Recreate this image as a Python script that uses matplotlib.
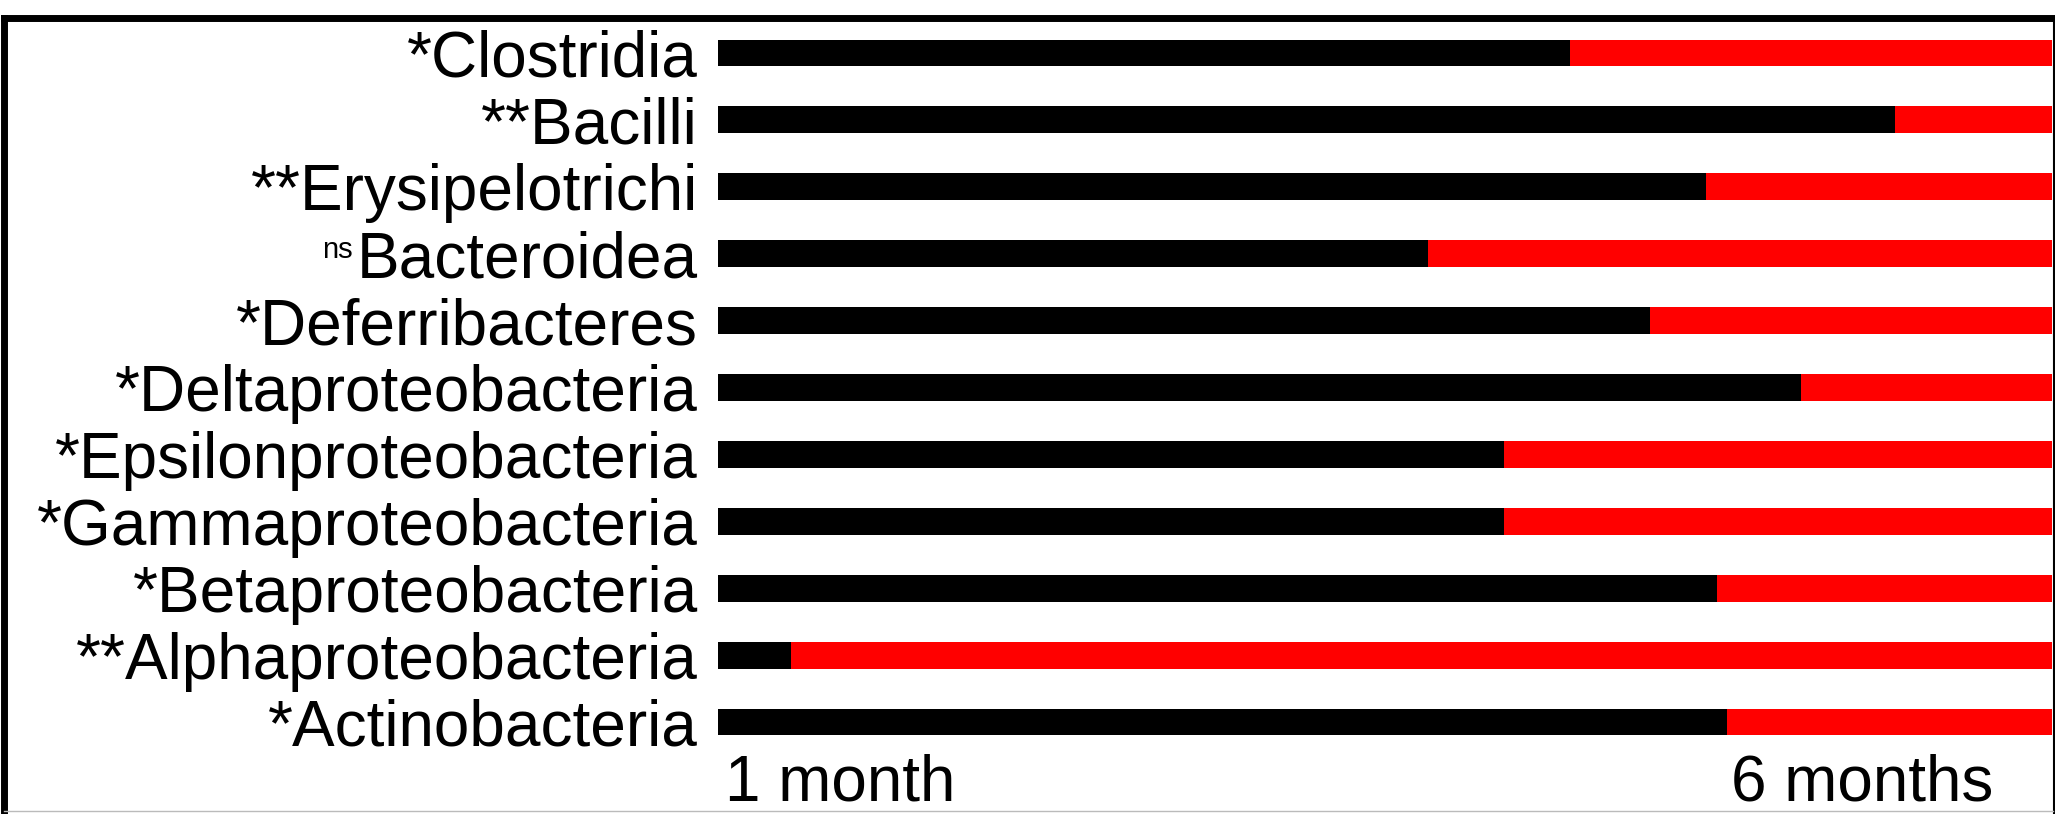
import matplotlib
matplotlib.use("Agg")
import matplotlib.pyplot as plt
from matplotlib.lines import Line2D
import matplotlib.transforms as mtransforms

plt.rcParams['font.family'] = ['Liberation Sans', 'DejaVu Sans']

categories = ["Clostridia", "Bacilli", "Erysipelotrichi", "Bacteroidea",
              "Deferribacteres", "Deltaproteobacteria", "Epsilonproteobacteria",
              "Gammaproteobacteria", "Betaproteobacteria", "Alphaproteobacteria",
              "Actinobacteria"]
significance = ["*", "**", "**", "ns", "*", "*", "*", "*", "*", "**", "*"]
one_month = [0.639, 0.882, 0.741, 0.532, 0.699, 0.812, 0.589, 0.589, 0.749, 0.055, 0.756]
six_months = [1 - v for v in one_month]
time_labels = ["1 month", "6 months"]

W, H = 2055, 814
fig = plt.figure(figsize=(W / 100, H / 100), dpi=100)
ax_left = 718 / W
ax_right = 2052 / W
ax_top = 1 - 19.5 / H
ax_bot = 1 - 755.5 / H
ax = fig.add_axes([ax_left, ax_bot, ax_right - ax_left, ax_top - ax_bot])

y = list(range(len(categories)))
ax.barh(y, one_month, height=0.40, color="black", left=0)
ax.barh(y, six_months, height=0.40, color="#ff0000", left=one_month)
ax.set_xlim(0, 1)
ax.set_ylim(len(categories) - 0.5, -0.5)

labels = [(s if s != "ns" else "") + c for s, c in zip(significance, categories)]
ax.set_yticks(y)
ax.set_yticklabels(labels, fontsize=46)
ax.tick_params(axis="y", length=0, pad=14.4)
ax.set_xticks([])
for sp in ax.spines.values():
    sp.set_visible(False)

# superscript "ns"
fig.canvas.draw()
for i, s in enumerate(significance):
    if s == "ns":
        tl = ax.get_yticklabels()[i]
        ax.annotate("ns", xy=(0, 1), xycoords=tl, xytext=(-3.0, -4.0),
                    textcoords="offset points", ha="right", va="top",
                    fontsize=21)

# time labels
trans = mtransforms.blended_transform_factory(ax.transData, ax.transAxes)
ax.text(0.005, -0.061, time_labels[0], transform=trans, fontsize=46,
        ha="left", va="baseline")
ax.text(0.956, -0.061, time_labels[1], transform=trans, fontsize=46,
        ha="right", va="baseline")

# frame
def fline(x0, y0, x1, y1, lw, color="black"):
    fig.add_artist(Line2D([x0 / W, x1 / W], [1 - y0 / H, 1 - y1 / H],
                          transform=fig.transFigure, lw=lw, color=color,
                          solid_capstyle="projecting"))

fline(3.5, 17.5, 2053, 17.5, 5.0)
fline(3.5, 17.5, 3.5, 814, 5.0)
fline(2053.5, 17.5, 2053.5, 814, 1.5)
fline(3.5, 811, 2053, 811, 1.0, color="#bbbbbb")

fig.savefig("out.png", dpi=100)
